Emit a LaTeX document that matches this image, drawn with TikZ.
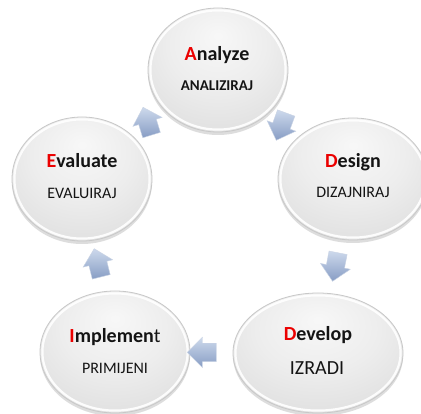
\documentclass[tikz,border=0pt]{standalone}
\usepackage{fontspec}
\setmainfont{Carlito}
\usetikzlibrary{shapes.geometric,shapes.arrows,shadows,calc}
\definecolor{redinit}{RGB}{235,0,0}
\definecolor{txt}{RGB}{20,20,20}
\definecolor{arrowtop}{RGB}{205,217,236}
\definecolor{arrowbot}{RGB}{135,157,196}
\definecolor{ballrim}{RGB}{200,200,200}
\pgfdeclareradialshading{ballshade}{\pgfpoint{0bp}{14bp}}{%
  color(0bp)=(white!97!black); color(18bp)=(white!93!black);
  color(36bp)=(white!87!black); color(50bp)=(white!79!black);
  color(64bp)=(white!76!black)}
\tikzset{
  stageball/.style={ellipse, shading=ballshade, draw=ballrim, line width=0.8pt,
    inner sep=0pt,
    drop shadow={shadow xshift=0pt, shadow yshift=-3pt, opacity=0.22, fill=black!60}},
  rimline/.style={draw=white, line width=2.2pt, opacity=0.9},
  titletext/.style={font=\fontsize{20}{24}\selectfont\bfseries, text=txt,
    inner sep=0pt, anchor=base},
  subtext/.style={font=\fontsize{16}{19}\selectfont, text=txt, inner sep=0pt,
    anchor=base},
  cyclearrow/.style={single arrow, minimum height=29pt, single arrow head extend=6pt,
    inner xsep=0pt, inner ysep=9pt, minimum width=0pt,
    top color=arrowtop, bottom color=arrowbot,
    draw=white!55!arrowbot, line width=0.4pt}
}
\newcommand{\stageball}[5]{%
  \node[stageball, minimum width=#4*2pt, minimum height=#5*2pt] (#1) at (#2,#3) {};
  \path[rimline] (#1.center) ellipse [x radius=#4-2.4, y radius=#5-2.4];
}
\begin{document}
\begin{tikzpicture}[x=1pt,y=-1pt]
  \fill[white] (0,0) rectangle (421,414);
  \useasboundingbox (0,0) rectangle (421,414);

  % stages
  \stageball{A}{218}{70}{70}{62}
  \stageball{D}{353}{179}{75}{61}
  \stageball{V}{318}{353}{85}{60}
  \stageball{I}{115}{352}{75}{61}
  \stageball{E}{82}{179}{70}{62}

  % texts
  \node[titletext] (At) at (217,61) {\textcolor{redinit}{A}nalyze};
  \node[subtext, font=\fontsize{15}{18}\selectfont\bfseries] (As) at (217,91) {ANALIZIRAJ};
  \node[titletext] (Dt) at (353,168) {\textcolor{redinit}{D}esign};
  \node[subtext] (Ds) at (353,198) {DIZAJNIRAJ};
  \node[titletext] (Vt) at (318,341) {\textcolor{redinit}{D}evelop};
  \node[subtext, font=\fontsize{20}{24}\selectfont] (Vs) at (317,375) {IZRADI};
  \node[titletext] (It) at (115,343) {\textcolor{redinit}{I}mplemen\mdseries t};
  \node[subtext] (Is) at (115,374) {PRIMIJENI};
  \node[titletext] (Et) at (82,168) {\textcolor{redinit}{E}valuate};
  \node[subtext] (Es) at (82,199) {EVALUIRAJ};

  % cycle arrows
  \node[cyclearrow, rotate=-110] (a1) at ($(A)!0.48!(D)$) {};
  \node[cyclearrow, rotate=-101] (a2) at ($(D)!0.48!(V)$) {};
  \node[cyclearrow, rotate=180] (a3) at ($(V)!0.55!(I)$) {};
  \node[cyclearrow, rotate=104] (a4) at ($(I)!0.49!(E)$) {};
  \node[cyclearrow, rotate=107] (a5) at ($(E)!0.49!(A)$) {};
\end{tikzpicture}
\end{document}
